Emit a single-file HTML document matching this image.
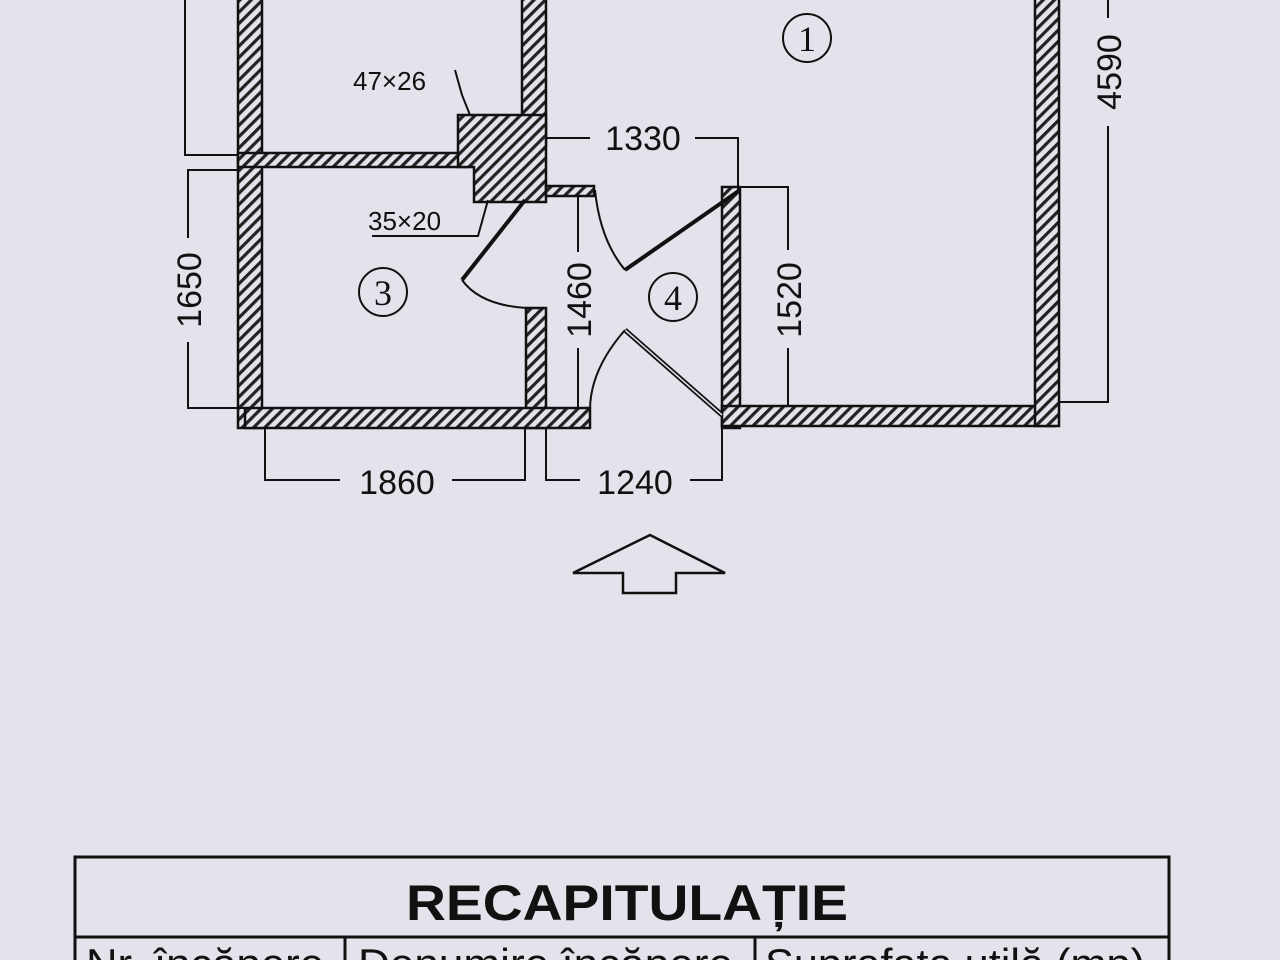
<!DOCTYPE html>
<html><head><meta charset="utf-8"><style>
html,body{margin:0;padding:0;background:#e3e3eb;}
svg{display:block;}
text{font-family:"Liberation Sans",sans-serif;fill:#111;}
</style></head><body>
<svg width="1280" height="960" viewBox="0 0 1280 960" xmlns="http://www.w3.org/2000/svg">
<defs>
<pattern id="h" patternUnits="userSpaceOnUse" width="8" height="8" patternTransform="rotate(45)">
<rect width="8" height="8" fill="#e3e3eb"/><rect x="0" y="0" width="3.2" height="8" fill="#222"/>
</pattern>
</defs>
<rect width="1280" height="960" fill="#e3e3eb"/>
<g fill="url(#h)" stroke="#111" stroke-width="2.5">
<rect x="238" y="-5" width="24" height="433"/>
<rect x="522" y="-5" width="24" height="150"/>
<rect x="238" y="153" width="230" height="14"/>
<polygon points="458,115 546,115 546,202 474,202 474,167 458,167"/>
<rect x="546" y="186" width="48" height="10"/>
<rect x="526" y="308" width="20" height="120"/>
<rect x="245" y="408" width="345" height="20"/>
<rect x="722" y="187" width="18" height="241"/>
<rect x="722" y="406" width="333" height="20"/>
<rect x="1035" y="-5" width="24" height="431"/>
</g>
<g fill="none" stroke="#111" stroke-width="2">
<polyline points="185,0 185,155 238,155"/>
<polyline points="238,170 188,170 188,408 245,408"/>
<polyline points="546,138 738,138 738,190"/>
<polyline points="740,187 788,187 788,406"/>
<polyline points="578,196 578,408"/>
<polyline points="1108,0 1108,402 1060,402"/>
<polyline points="265,428 265,480 525,480 525,428"/>
<polyline points="546,428 546,480 722,480 722,428"/>
<polyline points="455,70 462,95 470,115"/>
<polyline points="372,236 478,236 488,200"/>
<polyline points="525,200 462,280" stroke-width="4"/>
<path d="M462,280 Q480,305 526,308" />
<polyline points="740,190 625,270" stroke-width="4"/>
<path d="M595,190 Q600,240 625,270"/>
<polyline points="625,330 722,415" stroke-width="5"/>
<polyline points="625,330 722,415" stroke="#e3e3eb" stroke-width="1.5"/>
<path d="M625,330 Q590,370 590,410"/>
<circle cx="807" cy="38" r="24"/>
<circle cx="383" cy="292" r="24"/>
<circle cx="673" cy="297" r="24"/>
<polygon points="650,535 725,573 676,573 676,593 623,593 623,573 573,573" stroke-width="2.5"/>
</g>
<g fill="none" stroke="#111" stroke-width="3">
<rect x="75" y="857" width="1094" height="120"/>
<line x1="75" y1="937" x2="1169" y2="937"/>
<line x1="345" y1="937" x2="345" y2="970"/>
<line x1="755" y1="937" x2="755" y2="970"/>
</g>
<g fill="#e3e3eb">
<rect x="172" y="238" width="32" height="104"/>
<rect x="562" y="252" width="32" height="96"/>
<rect x="772" y="250" width="32" height="98"/>
<rect x="1092" y="18" width="32" height="108"/>
<rect x="590" y="122" width="105" height="32"/>
<rect x="340" y="465" width="112" height="30"/>
<rect x="580" y="465" width="110" height="30"/>
</g>
<g font-size="34">
<text x="643" y="150" text-anchor="middle">1330</text>
<text x="397" y="494" text-anchor="middle">1860</text>
<text x="635" y="494" text-anchor="middle">1240</text>
<text transform="translate(201,290) rotate(-90)" text-anchor="middle">1650</text>
<text transform="translate(591,300) rotate(-90)" text-anchor="middle">1460</text>
<text transform="translate(801,300) rotate(-90)" text-anchor="middle">1520</text>
<text transform="translate(1121,72) rotate(-90)" text-anchor="middle">4590</text>
</g>
<g font-size="26">
<text x="353" y="90">47×26</text>
<text x="368" y="230">35×20</text>
</g>
<g font-size="36" text-anchor="middle">
<text x="807" y="51" style="font-family:'Liberation Serif',serif">1</text>
<text x="383" y="305" style="font-family:'Liberation Serif',serif">3</text>
<text x="673" y="310" style="font-family:'Liberation Serif',serif">4</text>
</g>
<text x="627" y="920" text-anchor="middle" font-size="50" font-weight="bold" textLength="442" lengthAdjust="spacingAndGlyphs">RECAPITULAȚIE</text>
<g font-size="42">
<text x="86" y="978" textLength="238" lengthAdjust="spacingAndGlyphs">Nr. încăpere</text>
<text x="358" y="978" textLength="375" lengthAdjust="spacingAndGlyphs">Denumire încăpere</text>
<text x="765" y="978" textLength="380" lengthAdjust="spacingAndGlyphs">Suprafata utilă (mp)</text>
</g>
</svg>
</body></html>
